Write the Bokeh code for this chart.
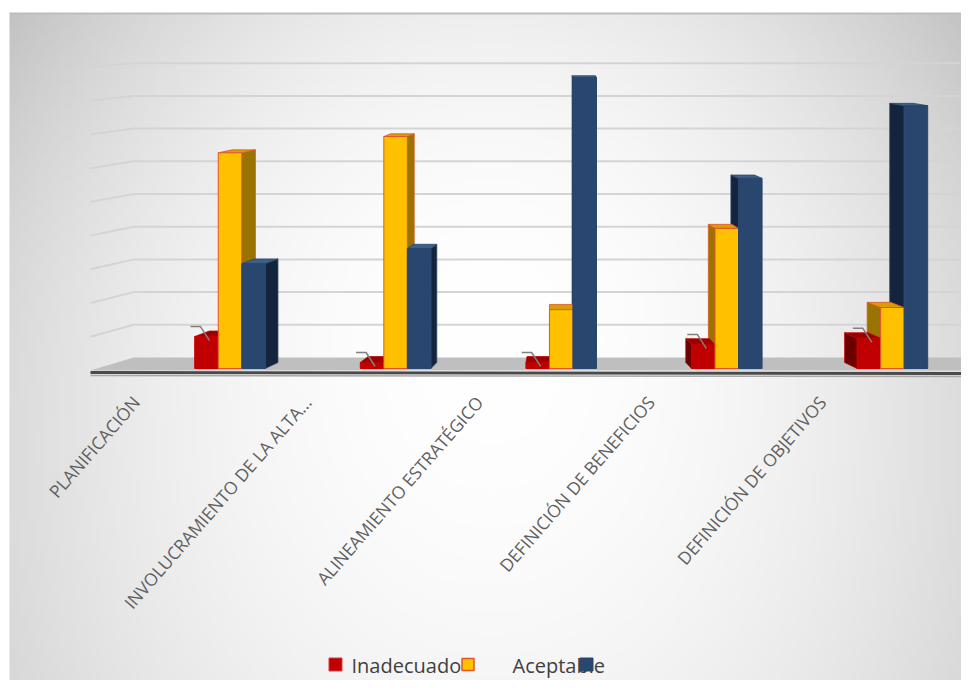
import numpy as np
from bokeh.plotting import figure
from bokeh.models import ColumnDataSource
from bokeh.embed import file_html
from bokeh.resources import INLINE
from bokeh.core.properties import value

# ---------------- data ----------------
categories = ["PLANIFICACIÓN", "INVOLUCRAMIENTO DE LA ALTA...", "ALINEAMIENTO ESTRATÉGICO",
              "DEFINICIÓN DE BENEFICIOS", "DEFINICIÓN DE OBJETIVOS"]
legend_labels = ["Inadecuado", "Aceptable", ""]
inadecuado = [9.0, 1.7, 1.7, 6.8, 8.5]
aceptable = [60.8, 65.4, 16.6, 39.5, 17.2]
adecuado = [29.6, 33.8, 82.0, 53.6, 74.1]

# ---------------- layout helpers (picture pixels -> data) ----------------
W, H = 961, 680
SX, XC = 165.6, 229.5      # px per category, px of first category centre
SY, YB = 3.547, 368.0      # px per percent, px of floor front
def X(px): return (np.asarray(px, float) - XC) / SX
def Y(py): return (YB - np.asarray(py, float)) / SY
def PX(x): return XC + SX * np.asarray(x, float)
def PY(y): return YB - SY * np.asarray(y, float)

p = figure(width=W, height=H, x_range=(float(X(0)), float(X(W))),
           y_range=(float(Y(H)), float(Y(0))), output_backend="svg",
           toolbar_location=None, min_border=0)
p.xaxis.visible = False
p.yaxis.visible = False
p.grid.visible = False
p.outline_line_color = None
p.background_fill_color = "white"
p.border_fill_color = "white"

# ---------------- background gradient ----------------
nx, ny = 192, 136
gx = np.linspace(9, 977, nx)
gy = np.linspace(696, 13, ny)
GX, GY = np.meshgrid(gx, gy)
fx = (np.abs(GX - 490) / 485) ** 2
A = 44 - 14 * np.clip((GY - 13) / 680, 0, 1)
fy = np.where(GY < 330, ((330 - GY) / 317) ** 2 * 17, ((GY - 330) / 366) ** 2 * 10)
v = np.clip(255 - A * fx - fy, 0, 255).astype(np.uint32)
img = ((255 << 24) | (v << 16) | (v << 8) | v).astype(np.uint32)
p.image_rgba(image=[img], x=float(X(9)), y=float(Y(696)),
             dw=float(X(977) - X(9)), dh=float(Y(13) - Y(696)))
p.segment(x0=[float(X(9))], y0=[float(Y(13))], x1=[float(X(977))], y1=[float(Y(13))],
          line_color="#bdbdbd", line_width=2)

# ---------------- perspective helpers ----------------
def rise(py):            # vertical shift of wall/floor depth at height py
    return 13.0 * (py + 59.0) / 416.0

# gridlines on back wall + left wall
ks = np.arange(1, 10)
ygrid = 357.0 - 32.7 * ks
p.segment(x0=X(np.full(len(ks), 133.0)), y0=Y(ygrid), x1=X(np.full(len(ks), 960.0)), y1=Y(ygrid),
          line_color="#d4d4d4", line_width=2)
p.segment(x0=X(np.full(len(ks), 90.0)), y0=Y(ygrid + rise(ygrid)), x1=X(np.full(len(ks), 133.0)),
          y1=Y(ygrid), line_color="#d4d4d4", line_width=2)

# floor
p.patch(x=X([90, 133, 960, 977, 977]), y=Y([370, 357, 357, 368, 370]),
        fill_color="#bfbfbf", line_color=None)
p.segment(x0=[float(X(90))], y0=[float(Y(372))], x1=[float(X(977))], y1=[float(Y(373))],
          line_color="#4a4a4a", line_width=3)
p.segment(x0=[float(X(90))], y0=[float(Y(375))], x1=[float(X(977))], y1=[float(Y(376))],
          line_color="#a8a8a8", line_width=1.5)

# ---------------- 3D bars ----------------
bw = 0.142
series = [
    (inadecuado, -1, "#c00000", "#6a0000", "#9a0000", "#c00000"),
    (aceptable, 0, "#ffc000", "#9a7400", "#d99e00", "#e0562a"),
    (adecuado, 1, "#29466e", "#14243c", "#3d5f8a", "#29466e"),
]
fb = 0.45
side_xs, side_ys, side_c, side_l = [], [], [], []
top_xs, top_ys, top_c, top_l = [], [], [], []
for vals, off, fc, sc, tc, lc in series:
    for i, val in enumerate(vals):
        xc = PX(i + off * bw)
        xl, xr = xc - SX * bw / 2, xc + SX * bw / 2
        top, base = PY(val), YB
        ddx = fb * 0.091 * (563.0 - xc)
        dt, db = -fb * rise(top), -fb * rise(base)
        xe = xr if ddx > 0 else xl
        side_xs.append(list(X([xe, xe, xe + ddx, xe + ddx])))
        side_ys.append(list(Y([base, top, top + dt, base + db])))
        side_c.append(sc); side_l.append(lc)
        top_xs.append(list(X([xl, xr, xr + ddx, xl + ddx])))
        top_ys.append(list(Y([top, top, top + dt, top + dt])))
        top_c.append(tc); top_l.append(lc)

p.patches(xs="xs", ys="ys", fill_color="c", line_color="l", line_width=0.8,
          source=ColumnDataSource(dict(xs=side_xs, ys=side_ys, c=side_c, l=side_l)))
p.patches(xs="xs", ys="ys", fill_color="c", line_color="l", line_width=0.8,
          source=ColumnDataSource(dict(xs=top_xs, ys=top_ys, c=top_c, l=top_l)))
for vals, off, fc, sc, tc, lc in series:
    xs = [i + off * bw for i in range(len(vals))]
    p.vbar(x=xs, width=bw, bottom=0, top=vals, fill_color=fc, line_color=lc, line_width=1)

# leader lines above red bars
lx, ly = [], []
for i, val in enumerate(inadecuado):
    cx, ty = PX(i - bw), PY(val)
    lx.append(list(X([cx + 3, cx - 6, cx - 16])))
    ly.append(list(Y([ty + 4, ty - 10, ty - 10])))
p.multi_line(xs=lx, ys=ly, line_color="#808080", line_width=1.5)

# ---------------- category labels ----------------
lab_x = [float(X(PX(i) - 94 + 6 * i)) for i in range(len(categories))]
lab_y = [float(Y(398))] * len(categories)
p.text(x=lab_x, y=lab_y, text=categories, angle=0.855, text_align="right",
       text_baseline="middle", text_font=value("Open Sans"), text_font_size="17.5px",
       text_color="#5f5f5f")

# ---------------- legend (drawn as in the original) ----------------
p.scatter(x=[float(X(335))], y=[float(Y(664))], marker="square", size=13,
          fill_color="#c00000", line_color="#d04040")
p.text(x=[float(X(351))], y=[float(Y(665))], text=[legend_labels[0]], text_baseline="middle",
       text_font=value("Open Sans"), text_font_size="20px", text_color="#404040")
p.scatter(x=[float(X(467.5))], y=[float(Y(664))], marker="square", size=12,
          fill_color="#ffc000", line_color="#e0562a", line_width=1.5)
p.text(x=[float(X(512))], y=[float(Y(665))], text=[legend_labels[1]], text_baseline="middle",
       text_font=value("Open Sans"), text_font_size="20px", text_color="#404040")
p.scatter(x=[float(X(586))], y=[float(Y(664))], marker="square", size=13,
          fill_color="#29466e", line_color="#29466e")

open("out.html", "w").write(file_html(p, INLINE))
